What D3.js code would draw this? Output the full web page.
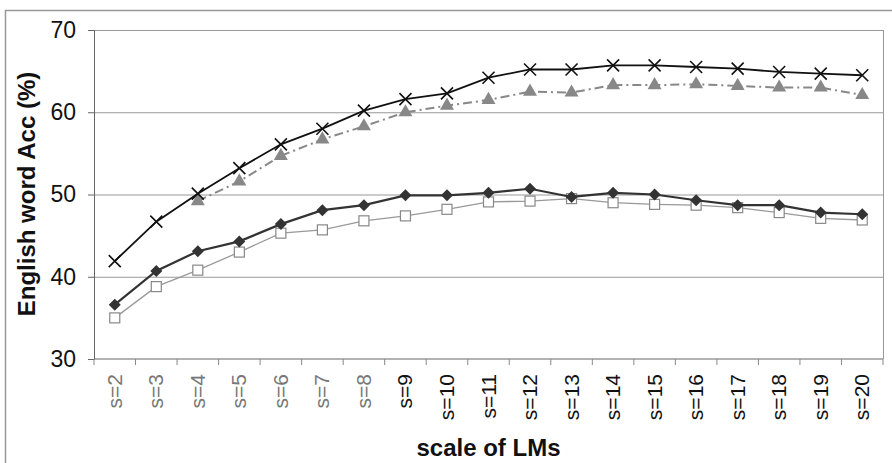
<!DOCTYPE html>
<html>
<head>
<meta charset="utf-8">
<script src="https://cdn.jsdelivr.net/npm/d3@7"></script>
<style>
  body { margin: 0; background: #fff; }
  svg { font-family: "Liberation Sans", Arial, sans-serif; }
</style>
</head>
<body>
<svg id="chart" width="892" height="463"></svg>
<script>
// categories and series
var scales = ["s=2","s=3","s=4","s=5","s=6","s=7","s=8","s=9","s=10","s=11",
              "s=12","s=13","s=14","s=15","s=16","s=17","s=18","s=19","s=20"];
var crossVals = [41.9,46.7,50.1,53.2,56.1,58.0,60.2,61.6,62.3,64.2,65.2,65.2,65.7,65.7,65.5,65.3,64.9,64.7,64.5];
var triVals   = [null,null,49.2,51.6,54.7,56.7,58.3,60.0,60.8,61.5,62.5,62.4,63.3,63.3,63.4,63.2,63.0,63.0,62.1];
var diaVals   = [36.6,40.7,43.1,44.3,46.4,48.1,48.7,49.9,49.9,50.2,50.7,49.7,50.2,50.0,49.3,48.7,48.7,47.8,47.6];
var sqVals    = [35.0,38.8,40.8,43.0,45.3,45.7,46.8,47.4,48.2,49.1,49.2,49.5,49.0,48.8,48.7,48.4,47.8,47.1,46.9];
var yTicks = [30,40,50,60,70];

var svg = d3.select("#chart");
var pL = 94, pR = 883, pT = 30, pB = 359;

// outer frame
svg.append("rect").attr("x", 5.5).attr("y", 10.5).attr("width", 900).attr("height", 470)
  .attr("fill", "none").attr("stroke", "#999").attr("stroke-width", 1.5);

var x = d3.scaleBand().domain(scales).range([pL, pR]);
var y = d3.scaleLinear().domain([30, 70]).range([pB, pT]);
var cx = function(i){ return x(scales[i]) + x.bandwidth() / 2; };

// gridlines
svg.append("g").selectAll("line").data(yTicks.slice(1)).join("line")
  .attr("x1", pL).attr("x2", pR)
  .attr("y1", function(d){ return y(d) + 0.5; }).attr("y2", function(d){ return y(d) + 0.5; })
  .attr("stroke", "#999").attr("stroke-width", 1);

// right border of plot
svg.append("line").attr("x1", pR + 0.5).attr("x2", pR + 0.5).attr("y1", pT).attr("y2", pB)
  .attr("stroke", "#999");

// y axis
var yAxis = svg.append("g").attr("transform", "translate(" + pL + ",0)")
  .call(d3.axisLeft(y).tickValues(yTicks).tickSize(6).tickPadding(12));
yAxis.select(".domain").attr("stroke", "#666");
yAxis.selectAll(".tick line").attr("stroke", "#666");
yAxis.selectAll("text").attr("font-size", 23).attr("fill", "#111");

// x axis, ticks between categories
var xAxis = svg.append("g").attr("transform", "translate(0," + pB + ")");
xAxis.append("line").attr("x1", pL).attr("x2", pR).attr("stroke", "#666");
xAxis.selectAll("line.tk").data(scales.concat(["end"])).join("line").attr("class", "tk")
  .attr("x1", function(d, i){ return pL + i * x.bandwidth(); })
  .attr("x2", function(d, i){ return pL + i * x.bandwidth(); })
  .attr("y1", 0).attr("y2", 6).attr("stroke", "#888");
xAxis.selectAll("text").data(scales).join("text")
  .attr("transform", function(d, i){ return "translate(" + (cx(i) + 7) + ",15) rotate(-90)"; })
  .attr("text-anchor", "end")
  .attr("font-size", 21)
  .attr("fill", function(d, i){ return i < 7 ? "#777" : "#111"; })
  .text(function(d){ return d; });

// axis titles
svg.append("text").attr("x", (pL + pR) / 2).attr("y", 456)
  .attr("text-anchor", "middle").attr("font-size", 24).attr("font-weight", "bold")
  .attr("fill", "#111").text("scale of LMs");
svg.append("text").attr("transform", "translate(35,194) rotate(-90)")
  .attr("text-anchor", "middle").attr("font-size", 24).attr("font-weight", "bold")
  .attr("fill", "#111").text("English word Acc (%)");

function lineFor(vals) {
  return d3.line().defined(function(d){ return d != null; })
    .x(function(d, i){ return cx(i); }).y(function(d){ return y(d); })(vals);
}
function pts(vals) {
  return vals.map(function(v, i){ return {v: v, i: i}; }).filter(function(d){ return d.v != null; });
}

// open squares series
svg.append("path").attr("d", lineFor(sqVals)).attr("fill", "none").attr("stroke", "#999").attr("stroke-width", 1.3);
svg.append("g").selectAll("rect").data(pts(sqVals)).join("rect")
  .attr("x", function(d){ return cx(d.i) - 5; }).attr("y", function(d){ return y(d.v) - 5; })
  .attr("width", 10).attr("height", 10).attr("fill", "#fff").attr("stroke", "#888").attr("stroke-width", 1.2);

// diamonds series (square rotated 45 degrees)
svg.append("path").attr("d", lineFor(diaVals)).attr("fill", "none").attr("stroke", "#333").attr("stroke-width", 2.2);
svg.append("g").selectAll("path").data(pts(diaVals)).join("path")
  .attr("d", d3.symbol().type(d3.symbolSquare).size(72))
  .attr("transform", function(d){ return "translate(" + cx(d.i) + "," + y(d.v) + ") rotate(45)"; })
  .attr("fill", "#333");

// triangles series
svg.append("path").attr("d", lineFor(triVals)).attr("fill", "none").attr("stroke", "#888")
  .attr("stroke-width", 2).attr("stroke-dasharray", "9,4,2,4");
svg.append("g").selectAll("path").data(pts(triVals)).join("path")
  .attr("d", d3.symbol().type(d3.symbolTriangle).size(85))
  .attr("transform", function(d){ return "translate(" + cx(d.i) + "," + y(d.v) + ")"; })
  .attr("fill", "#888");

// crosses series
svg.append("path").attr("d", lineFor(crossVals)).attr("fill", "none").attr("stroke", "#111").attr("stroke-width", 1.8);
svg.append("g").selectAll("path").data(pts(crossVals)).join("path")
  .attr("d", "M-6,-6L6,6M-6,6L6,-6")
  .attr("transform", function(d){ return "translate(" + cx(d.i) + "," + y(d.v) + ")"; })
  .attr("stroke", "#111").attr("stroke-width", 1.6).attr("fill", "none");
</script>
</body>
</html>
